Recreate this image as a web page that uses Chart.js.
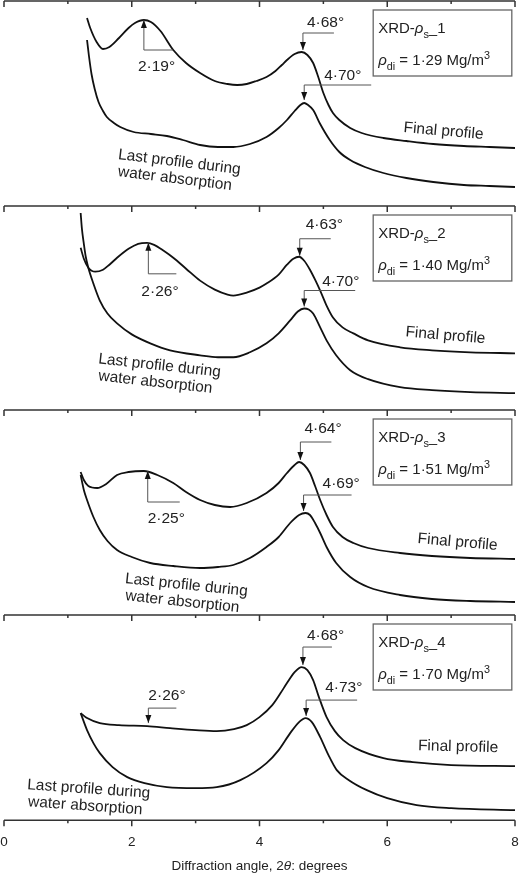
<!DOCTYPE html>
<html>
<head>
<meta charset="utf-8">
<title>XRD profiles</title>
<script src="https://cdn.jsdelivr.net/npm/chart.js@4.4.0/dist/chart.umd.min.js"></script>
<style>
  body { margin: 0; background: #fff; }
  #wrap { position: relative; width: 520px; height: 875px; overflow: hidden; }
  canvas { position: absolute; left: 0; }
</style>
</head>
<body>
<div id="wrap">
  <canvas id="panel1" width="520" height="206" style="top:0px"></canvas>
  <canvas id="panel2" width="520" height="205" style="top:205px"></canvas>
  <canvas id="panel3" width="520" height="206" style="top:409px"></canvas>
  <canvas id="panel4" width="520" height="261" style="top:614px"></canvas>
</div>
<script>
// ---- data (2theta in degrees, intensity in arbitrary units) ----
const majorTicks = [0, 2, 4, 6, 8];
const minorTicks = [1, 3, 5, 7];

const sampleNames = ["1", "2", "3", "4"];
const dryDensity = ["1·29", "1·40", "1·51", "1·70"];

// peak angles: [low-angle peak, final-profile peak, last-profile peak]
const peakAngles = [
  [2.19, 4.68, 4.70],
  [2.26, 4.63, 4.70],
  [2.25, 4.64, 4.69],
  [2.26, 4.68, 4.73],
];
// intensity where each arrow points
const peakTips = [
  [186, 156, 106],
  [168, 155, 104],
  [144, 155, 104],
  [97, 155, 104],
];

// panel 1
const angles1Final = [1.30, 1.35, 1.45, 1.55, 1.65, 1.80, 1.95, 2.05, 2.19, 2.30, 2.45, 2.65, 2.85, 3.07, 3.30, 3.50, 3.65, 3.80, 3.95, 4.11, 4.25, 4.35, 4.43, 4.55, 4.66, 4.75, 4.84, 4.92, 5.00, 5.08, 5.15, 5.25, 5.42, 5.60, 5.94, 6.30, 6.72, 7.20, 7.60, 8.00];
const counts1Final = [188, 178, 164, 157, 159, 168, 178, 183, 186, 184, 175, 156, 143, 133, 125, 122, 121, 122, 125, 129, 135, 141, 146, 152, 154, 151, 143, 129, 113, 101, 93, 86, 78, 73, 68, 65, 62, 60, 59, 58];
const angles1Last = [1.30, 1.33, 1.37, 1.42, 1.48, 1.55, 1.61, 1.72, 1.82, 2.03, 2.30, 2.55, 2.80, 3.07, 3.35, 3.59, 3.85, 4.11, 4.30, 4.43, 4.55, 4.64, 4.70, 4.76, 4.84, 4.95, 5.10, 5.25, 5.42, 5.65, 5.94, 6.30, 6.72, 7.20, 7.60, 8.00];
const counts1Last = [166, 150, 132, 117, 104, 95, 89, 83, 79, 74, 72, 70, 66, 61, 59, 59, 62, 69, 78, 86, 95, 101, 103, 101, 96, 82, 66, 54, 46, 39, 33, 28, 24, 21, 20, 19];

// panel 2
const angles2Final = [1.20, 1.25, 1.32, 1.43, 1.55, 1.65, 1.77, 1.95, 2.10, 2.24, 2.35, 2.50, 2.65, 2.85, 3.07, 3.30, 3.50, 3.59, 3.80, 4.00, 4.11, 4.30, 4.43, 4.53, 4.62, 4.70, 4.79, 4.87, 4.95, 5.05, 5.15, 5.30, 5.47, 5.70, 6.20, 6.70, 7.30, 8.00];
const counts2Final = [163, 152, 143, 139, 141, 146, 153, 162, 167, 168, 166, 160, 153, 142, 130, 121, 116, 115, 118, 123, 127, 136, 146, 152, 154, 150, 141, 131, 120, 105, 93, 83, 77, 70, 63, 60, 58, 57];
const angles2Last = [1.20, 1.22, 1.25, 1.28, 1.32, 1.40, 1.50, 1.62, 1.77, 2.00, 2.29, 2.60, 3.07, 3.35, 3.59, 3.85, 4.11, 4.30, 4.48, 4.60, 4.70, 4.77, 4.84, 4.95, 5.05, 5.20, 5.42, 5.70, 6.20, 6.70, 7.30, 8.00];
const counts2Last = [198, 182, 167, 154, 143, 127, 110, 97, 87, 76, 67, 60, 55, 53, 53, 58, 67, 77, 90, 99, 102, 101, 97, 83, 70, 55, 40, 31, 23, 20, 18, 17];

// panel 3
const angles3Final = [1.20, 1.25, 1.32, 1.46, 1.60, 1.77, 1.95, 2.19, 2.40, 2.65, 2.85, 3.07, 3.30, 3.54, 3.80, 4.11, 4.30, 4.43, 4.55, 4.62, 4.70, 4.79, 4.87, 4.95, 5.05, 5.15, 5.30, 5.47, 5.70, 6.20, 6.70, 7.30, 8.00];
const counts3Final = [143, 135, 129, 127, 131, 140, 143, 144, 140, 132, 123, 115, 110, 108, 112, 122, 132, 142, 150, 153, 150, 142, 129, 115, 100, 88, 78, 72, 67, 62, 59, 57, 56];
const angles3Last = [1.20, 1.25, 1.30, 1.40, 1.50, 1.62, 1.77, 2.00, 2.29, 2.65, 3.07, 3.35, 3.59, 3.85, 4.11, 4.30, 4.48, 4.62, 4.72, 4.79, 4.87, 4.95, 5.05, 5.20, 5.42, 5.70, 6.20, 6.70, 7.30, 8.00];
const counts3Last = [140, 125, 115, 98, 85, 74, 65, 58, 52, 49, 47, 48, 50, 57, 68, 78, 92, 100, 102, 100, 92, 82, 68, 52, 38, 28, 20, 16, 14, 13];

// panel 4
const angles4Final = [1.20, 1.30, 1.50, 1.80, 2.24, 2.60, 3.00, 3.33, 3.60, 3.80, 4.00, 4.20, 4.33, 4.43, 4.55, 4.66, 4.75, 4.84, 4.93, 5.05, 5.18, 5.31, 5.50, 5.94, 6.40, 7.00, 8.00];
const counts4Final = [107, 102, 97, 95, 94, 92, 90, 89, 91, 95, 103, 115, 127, 137, 148, 153, 150, 140, 123, 103, 89, 80, 72, 62, 58, 55, 54];
const angles4Last = [1.20, 1.30, 1.40, 1.50, 1.70, 1.93, 2.20, 2.55, 3.00, 3.33, 3.70, 4.11, 4.30, 4.48, 4.62, 4.72, 4.82, 4.95, 5.08, 5.21, 5.40, 5.68, 6.00, 6.46, 7.00, 8.00];
const counts4Last = [107, 90, 77, 67, 53, 43, 37, 33, 32, 33, 40, 57, 70, 87, 98, 102, 98, 83, 65, 50, 40, 30, 22, 15, 12, 10];

// ---- styling / layout ----
const FONT = '"Liberation Sans", Arial, Helvetica, sans-serif';
Chart.defaults.font.family = FONT;

// leader geometry for each arrow (pixels from the arrow tip)
const leaderLayout = [
  [{ dir: "up", stem: 30, arm: 29, tx: -6, ty: 51 }, { dir: "down", stem: 17, arm: 31, tx: 4, ty: -23 }, { dir: "down", stem: 15, arm: 67, tx: 20, ty: -20 }],
  [{ dir: "up", stem: 31, arm: 28, tx: -7, ty: 53 }, { dir: "down", stem: 17, arm: 31, tx: 6, ty: -27 }, { dir: "down", stem: 16, arm: 51, tx: 18, ty: -21 }],
  [{ dir: "up", stem: 31, arm: 32, tx: 0, ty: 52 }, { dir: "down", stem: 18, arm: 31, tx: 4, ty: -27 }, { dir: "down", stem: 16, arm: 48, tx: 19, ty: -23 }],
  [{ dir: "down", stem: 15, arm: 28, tx: 0, ty: -23 }, { dir: "down", stem: 18, arm: 29, tx: 4, ty: -25 }, { dir: "down", stem: 16, arm: 51, tx: 19, ty: -24 }],
];
// where the curve names sit (in axis units) and their tilt in degrees
const curveNameLayout = [
  { final: [6.25, 74, 5], last: [1.78, 47, 7] },
  { final: [6.28, 74, 5], last: [1.47, 47, 6.3] },
  { final: [6.47, 72, 5], last: [1.89, 32, 6] },
  { final: [6.48, 70, 1.5], last: [0.36, 31, 4] },
];

// draw a run of text pieces (italic / subscript / superscript)
const drawRich = (ctx, parts, x, y, size) => {
  parts.forEach((p) => {
    const s = p.sub || p.sup ? size * 0.72 : size;
    ctx.font = (p.italic ? "italic " : "") + s + "px " + FONT;
    const dy = p.sub ? size * 0.3 : p.sup ? -size * 0.42 : 0;
    ctx.fillText(p.t, x, y + dy);
    x += ctx.measureText(p.t).width;
  });
};

// plugin that draws the panel frame line, peak arrows, sample box and curve names
const panelDecor = {
  id: "panelDecor",
  afterDraw(chart, args, opts) {
    const { ctx, chartArea } = chart;
    const xs = chart.scales.x;
    const ys = chart.scales.y;
    const k = opts.index;
    ctx.save();

    // axis line with downward ticks
    const axisLine = (yPx) => {
      ctx.strokeStyle = "#333";
      ctx.lineWidth = 1.5;
      ctx.beginPath();
      ctx.moveTo(xs.getPixelForValue(0), yPx);
      ctx.lineTo(xs.getPixelForValue(8), yPx);
      majorTicks.forEach((v) => {
        ctx.moveTo(xs.getPixelForValue(v), yPx);
        ctx.lineTo(xs.getPixelForValue(v), yPx + 6);
      });
      minorTicks.forEach((v) => {
        ctx.moveTo(xs.getPixelForValue(v), yPx);
        ctx.lineTo(xs.getPixelForValue(v), yPx + 3);
      });
      ctx.stroke();
    };
    axisLine(chartArea.top);
    if (opts.bottomAxis) {
      axisLine(chartArea.bottom);
      // axis title with italic theta
      ctx.fillStyle = "#222";
      ctx.textBaseline = "middle";
      const size = 13.5;
      const parts = [{ t: "Diffraction angle, 2" }, { t: "θ", italic: true }, { t: ": degrees" }];
      let w = 0;
      parts.forEach((p) => {
        ctx.font = (p.italic ? "italic " : "") + size + "px " + FONT;
        w += ctx.measureText(p.t).width;
      });
      drawRich(ctx, parts, (xs.getPixelForValue(0) + xs.getPixelForValue(8)) / 2 - w / 2, chartArea.bottom + 46, size);
      ctx.textBaseline = "alphabetic";
    }

    // peak arrows and labels
    peakAngles[k].forEach((ang, i) => {
      const g = leaderLayout[k][i];
      const px = xs.getPixelForValue(ang);
      const py = ys.getPixelForValue(peakTips[k][i]);
      const sign = g.dir === "up" ? 1 : -1;
      const ey = py + sign * g.stem;
      ctx.strokeStyle = "#555";
      ctx.lineWidth = 1;
      ctx.beginPath();
      ctx.moveTo(px, py);
      ctx.lineTo(px, ey);
      ctx.lineTo(px + g.arm, ey);
      ctx.stroke();
      ctx.fillStyle = "#111";
      ctx.beginPath();
      ctx.moveTo(px, py);
      ctx.lineTo(px - 3, py + sign * 8);
      ctx.lineTo(px + 3, py + sign * 8);
      ctx.closePath();
      ctx.fill();
      ctx.fillStyle = "#222";
      ctx.font = "15.5px " + FONT;
      ctx.fillText(ang.toFixed(2).replace(".", "·") + "°", px + g.tx, py + g.ty);
    });

    // sample box
    const bx = xs.getPixelForValue(5.78);
    const bw = xs.getPixelForValue(7.95) - bx;
    const by = chartArea.top + 9;
    ctx.strokeStyle = "#666";
    ctx.lineWidth = 1.3;
    ctx.strokeRect(bx, by, bw, 66);
    ctx.fillStyle = "#222";
    drawRich(ctx, [{ t: "XRD-" }, { t: "ρ", italic: true }, { t: "s", sub: true }, { t: "_" + sampleNames[k] }], bx + 5, by + 23, 15);
    drawRich(ctx, [{ t: "ρ", italic: true }, { t: "di", sub: true }, { t: " = " + dryDensity[k] + " Mg/m" }, { t: "3", sup: true }], bx + 5, by + 55, 15);

    // curve names, slightly tilted
    const names = curveNameLayout[k];
    const tilted = (lines, at) => {
      ctx.save();
      ctx.translate(xs.getPixelForValue(at[0]), ys.getPixelForValue(at[1]));
      ctx.rotate((at[2] * Math.PI) / 180);
      ctx.font = "15.5px " + FONT;
      lines.forEach((t, i) => ctx.fillText(t, i * 2, i * 17));
      ctx.restore();
    };
    tilted(["Final profile"], names.final);
    tilted(["Last profile during", "water absorption"], names.last);

    ctx.restore();
  },
};

const toPoints = (xsArr, ysArr) => xsArr.map((x, i) => ({ x, y: ysArr[i] }));

const makePanel = (id, k, finalX, finalY, lastX, lastY, bottomAxis) => {
  const line = (data) => ({
    data,
    borderColor: "#111",
    borderWidth: 1.8,
    pointRadius: 0,
    cubicInterpolationMode: "monotone",
    fill: false,
  });
  new Chart(document.getElementById(id), {
    type: "line",
    data: {
      datasets: [line(toPoints(finalX, finalY)), line(toPoints(lastX, lastY))],
    },
    options: {
      responsive: false,
      animation: false,
      events: [],
      layout: { padding: { left: 4, right: 5, top: 1, bottom: bottomAxis ? 10.8 : 0 } },
      scales: {
        x: {
          type: "linear",
          min: 0,
          max: 8,
          display: bottomAxis,
          grid: { display: false, drawTicks: false },
          border: { display: false },
          afterBuildTicks: (scale) => {
            scale.ticks = majorTicks.map((v) => ({ value: v }));
          },
          // zero padding keeps the edge labels from shrinking the plot; the tall line box pushes them down
          ticks: { padding: 0, color: "#222", font: { size: 13.5, lineHeight: 3.26 } },
        },
        y: { type: "linear", min: 0, max: 205, display: false },
      },
      plugins: {
        legend: { display: false },
        tooltip: { enabled: false },
        panelDecor: { index: k, bottomAxis },
      },
    },
    plugins: [panelDecor],
  });
};

makePanel("panel1", 0, angles1Final, counts1Final, angles1Last, counts1Last, false);
makePanel("panel2", 1, angles2Final, counts2Final, angles2Last, counts2Last, false);
makePanel("panel3", 2, angles3Final, counts3Final, angles3Last, counts3Last, false);
makePanel("panel4", 3, angles4Final, counts4Final, angles4Last, counts4Last, true);
</script>
</body>
</html>
